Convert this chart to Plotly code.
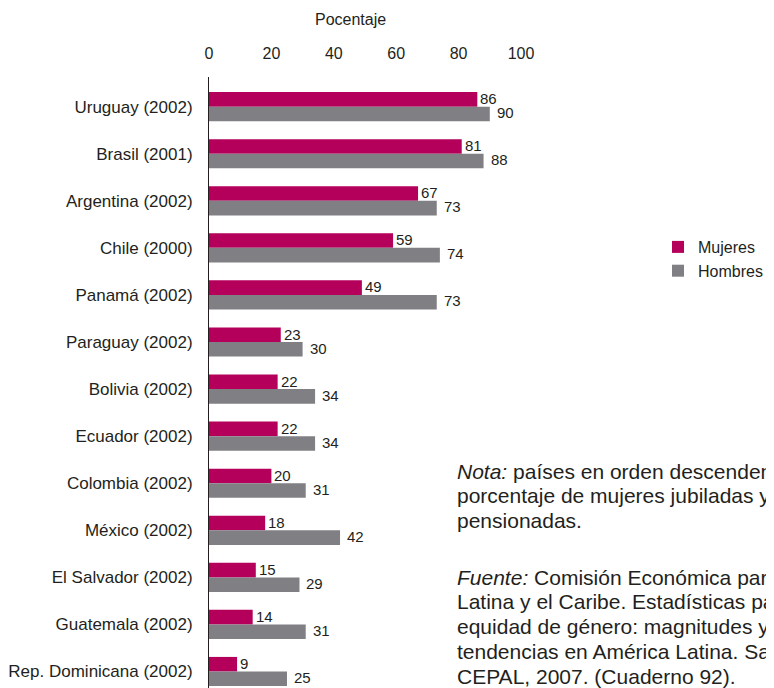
import plotly.graph_objects as go

countries = ["Uruguay (2002)", "Brasil (2001)", "Argentina (2002)", "Chile (2000)",
             "Panamá (2002)", "Paraguay (2002)", "Bolivia (2002)", "Ecuador (2002)",
             "Colombia (2002)", "México (2002)", "El Salvador (2002)", "Guatemala (2002)",
             "Rep. Dominicana (2002)"]
mujeres = [86, 81, 67, 59, 49, 23, 22, 22, 20, 18, 15, 14, 9]
hombres = [90, 88, 73, 74, 73, 30, 34, 34, 31, 42, 29, 31, 25]
x_ticks = [0, 20, 40, 60, 80, 100]

nota_lines = ["<i>Nota:</i> países en orden descendente según el",
              "porcentaje de mujeres jubiladas y",
              "pensionadas."]
fuente_lines = ["<i>Fuente:</i> Comisión Económica para América",
                "Latina y el Caribe. Estadísticas para la",
                "equidad de género: magnitudes y",
                "tendencias en América Latina. Santiago:",
                "CEPAL, 2007. (Cuaderno 92)."]

C_M = "#B4005A"
C_H = "#808084"
FONT = "Liberation Sans, Arial, sans-serif"
TXT = "#231F20"

# page has an 8px body margin; plot area sits at window x 209..521, y 77..688
OFF = 8
PL, PW = 209, 312
PT, PB = 77, 688
PH = PB - PT


def px(xw):
    return (xw - PL) / PW


def py(yw):
    return (PB - yw) / PH


fig = go.Figure()
fig.add_trace(go.Bar(y=countries, x=mujeres, orientation="h", name="Mujeres",
                     marker=dict(color=C_M, line=dict(width=0))))
fig.add_trace(go.Bar(y=countries, x=hombres, orientation="h", name="Hombres",
                     marker=dict(color=C_H, line=dict(width=0))))

anns = []
for c, m, h in zip(countries, mujeres, hombres):
    anns.append(dict(x=m, y=c, xref="x", yref="y", text=str(m), showarrow=False,
                     xanchor="left", yanchor="middle", xshift=1, yshift=8,
                     font=dict(size=15, color=TXT, family=FONT)))
    anns.append(dict(x=h, y=c, xref="x", yref="y", text=str(h), showarrow=False,
                     xanchor="left", yanchor="middle", xshift=5, yshift=-6,
                     font=dict(size=15, color=TXT, family=FONT)))

anns.append(dict(x=px(350), y=py(20), xref="paper", yref="paper",
                 text="Pocentaje", showarrow=False, xanchor="center", yanchor="middle",
                 font=dict(size=16, color=TXT, family=FONT)))

LS = 24.8
for i, line in enumerate(nota_lines):
    anns.append(dict(x=px(455), y=py(477 - 6 + i * LS), xref="paper", yref="paper",
                     text=line, showarrow=False, xanchor="left", yanchor="middle",
                     align="left", font=dict(size=21, color=TXT, family=FONT)))
for i, line in enumerate(fuente_lines):
    anns.append(dict(x=px(455), y=py(583 - 6 + i * LS), xref="paper", yref="paper",
                     text=line, showarrow=False, xanchor="left", yanchor="middle",
                     align="left", font=dict(size=21, color=TXT, family=FONT)))

W, H = 774 - OFF, 688 - OFF
fig.update_layout(
    width=W, height=H,
    margin=dict(l=PL - OFF, r=W - (PL - OFF) - PW, t=PT - OFF, b=H - (PB - OFF), pad=0),
    paper_bgcolor="white", plot_bgcolor="white",
    barmode="group", bargap=0.38, bargroupgap=0,
    font=dict(family=FONT, size=16, color=TXT),
    showlegend=True,
    legend=dict(x=px(658), y=py(259), xanchor="left", yanchor="middle",
                traceorder="normal", font=dict(size=16, color=TXT, family=FONT),
                bgcolor="rgba(0,0,0,0)"),
    annotations=anns,
    xaxis=dict(side="top", range=[0, 100], tickvals=x_ticks, showgrid=False,
               zeroline=False, showline=False, ticks="", ticklabelstandoff=14,
               tickfont=dict(size=16, color=TXT, family=FONT)),
    yaxis=dict(type="category", categoryorder="array", categoryarray=countries,
               range=[12.35, -0.63], showgrid=False, zeroline=False,
               showline=True, linecolor="#231F20", linewidth=1, ticks="",
               ticklabelstandoff=12, tickfont=dict(size=17, color=TXT, family=FONT)),
)

fig.write_html("out.html")
